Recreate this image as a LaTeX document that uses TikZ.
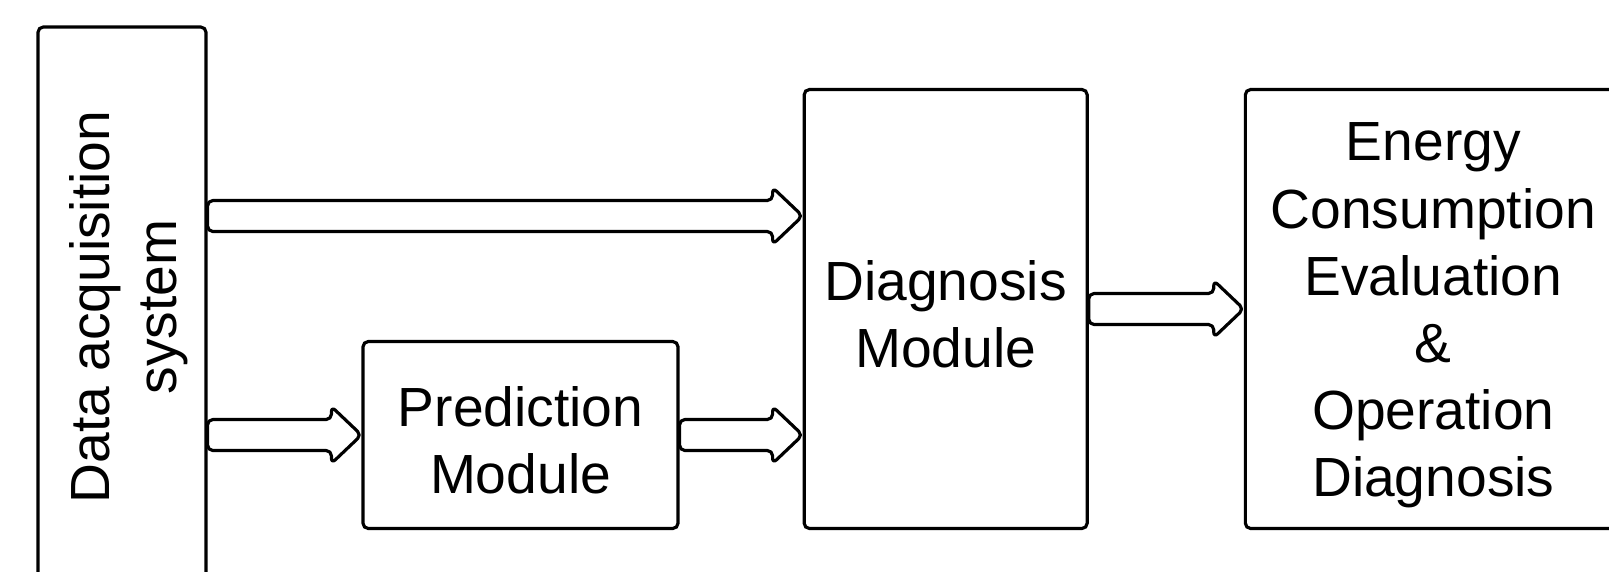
\documentclass[tikz,border=0pt]{standalone}
\usepackage{fontspec}
\setmainfont{Liberation Sans}
\usetikzlibrary{positioning,calc}

\newcommand{\FatArrow}[2]{%
  \draw[fat] ($(#1)+(0,0.155)$) -- ($(#2)+(-0.3,0.155)$) -- ($(#2)+(-0.3,0.285)$)
    -- (#2) -- ($(#2)+(-0.3,-0.285)$) -- ($(#2)+(-0.3,-0.155)$)
    -- ($(#1)+(0,-0.155)$) -- cycle;}
\newcommand{\topgap}{\rule{0pt}{0.51cm}}

\begin{document}
\begin{tikzpicture}
\tikzset{every node/.style={font=\fontsize{15.7}{19.1}\selectfont}}
\tikzset{module/.style={draw, line width=0.9pt, rounded corners=1.5pt, align=center, inner sep=0pt}}
\tikzset{fat/.style={draw, fill=white, line width=0.9pt, rounded corners=1.5pt, line join=round}}
 \useasboundingbox (0,0) rectangle (16.09,-5.71);
 \clip (0,0) rectangle (16.09,-5.71);
  \node[module, minimum width=1.68cm, minimum height=5.6cm] (das) at (1.22,-3.07)
    {\hspace*{0.16cm}\rotatebox{90}{\begin{tabular}{@{}c@{}}Data acquisition\\system\end{tabular}}};
  \node[module, minimum width=2.83cm, minimum height=4.39cm, right=5.95cm of das, yshift=-0.02cm] (diag) {\topgap Diagnosis\\Module};
  \node[module, minimum width=3.76cm, minimum height=4.39cm, right=1.55cm of diag] (ener)
    {\topgap Energy\\Consumption\\Evaluation\\\&\\Operation\\Diagnosis};
  \node[module, minimum width=3.15cm, minimum height=1.87cm, anchor=south east] (pred)
    at ([xshift=-1.23cm]diag.south west) {\topgap Prediction\\Module};
% connectors
\coordinate (top) at ([yshift=0.93cm]diag.west);
\coordinate (dasT) at (das.east |- top);
\coordinate (dasP) at (das.east |- pred.west);
\coordinate (diagP) at (diag.west |- pred.east);
 \FatArrow{dasT}{top}
 \FatArrow{dasP}{pred.west}
 \FatArrow{pred.east}{diagP}
 \FatArrow{diag.east}{ener.west}
\end{tikzpicture}
\end{document}
